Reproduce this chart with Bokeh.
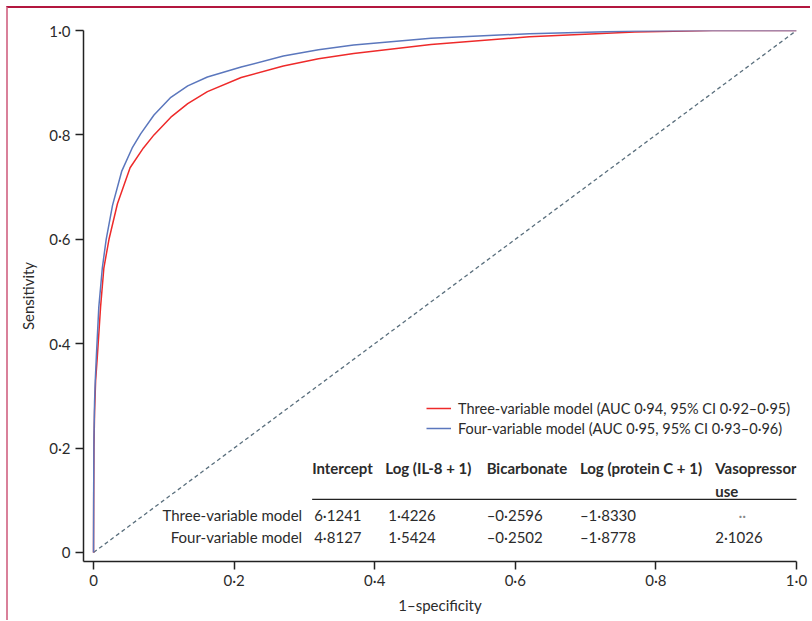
from bokeh.plotting import figure
from bokeh.models import Range1d, Legend, LegendItem, Label, FixedTicker
from bokeh.embed import file_html
from bokeh.resources import INLINE

# ---- data ----
three_fpr = [0, 0.0002, 0.0006, 0.0015, 0.003, 0.0052, 0.010, 0.0147, 0.022, 0.034,
             0.052, 0.071, 0.086, 0.110, 0.134, 0.162, 0.210, 0.27, 0.32, 0.37,
             0.48, 0.62, 0.77, 0.88, 1.0]
three_tpr = [0, 0.10, 0.20, 0.27, 0.33, 0.371, 0.47, 0.545, 0.600, 0.668,
             0.737, 0.775, 0.800, 0.834, 0.860, 0.883, 0.910, 0.932, 0.946, 0.956,
             0.973, 0.988, 0.997, 1.0, 1.0]
four_fpr = [0, 0.0002, 0.0006, 0.0015, 0.0025, 0.004, 0.0075, 0.0125, 0.018, 0.027,
            0.040, 0.055, 0.067, 0.086, 0.110, 0.134, 0.162, 0.210, 0.27, 0.32,
            0.37, 0.48, 0.62, 0.77, 0.88, 1.0]
four_tpr = [0, 0.12, 0.22, 0.29, 0.33, 0.375, 0.47, 0.545, 0.600, 0.665,
            0.730, 0.775, 0.802, 0.838, 0.872, 0.894, 0.911, 0.930, 0.951, 0.963,
            0.972, 0.985, 0.994, 0.999, 1.0, 1.0]
ref_x = [0, 1]
ref_y = [0, 1]

legend_labels = ["Three-variable model (AUC 0·94, 95% CI 0·92–0·95)",
                 "Four-variable model (AUC 0·95, 95% CI 0·93–0·96)"]

table_headers = ["Intercept", "Log (IL-8 + 1)", "Bicarbonate", "Log (protein C + 1)", "Vasopressor"]
table_rows = ["Three-variable model", "Four-variable model"]
intercept = ["6·1241", "4·8127"]
log_il8 = ["1·4226", "1·5424"]
bicarbonate = ["–0·2596", "–0·2502"]
log_protein_c = ["–1·8330", "–1·8778"]
vasopressor = ["··", "2·1026"]

ticks = [0, 0.2, 0.4, 0.6, 0.8, 1.0]
tick_labels = ["0", "0·2", "0·4", "0·6", "0·8", "1·0"]

FONT = "Lato"
FS = "15px"
TXT = "#2b2b2b"

p = figure(width=804, height=614, output_backend="svg", toolbar_location=None,
           x_range=Range1d(-0.01427, 1.0), y_range=Range1d(-0.0173, 1.0),
           min_border_left=75, min_border_right=16, min_border_top=22, min_border_bottom=61)
p.outline_line_color = None
p.xgrid.visible = False
p.ygrid.visible = False
p.styles = {"border-top": "2px solid #b3163f", "border-left": "2px solid #d9809a",
            "box-sizing": "border-box", "margin-left": "6px", "margin-top": "6px"}

for ax in (p.xaxis[0], p.yaxis[0]):
    ax.ticker = FixedTicker(ticks=ticks)
    ax.major_label_overrides = {t: l for t, l in zip(ticks, tick_labels)}
    ax.minor_tick_line_color = None
    ax.major_tick_in = 0
    ax.major_tick_out = 8
    ax.axis_line_color = "#222222"
    ax.axis_line_width = 1.5
    ax.major_tick_line_color = "#222222"
    ax.major_tick_line_width = 1.5
    ax.major_label_text_font = FONT
    ax.major_label_text_font_size = FS
    ax.major_label_text_color = TXT
    ax.axis_label_text_font = FONT
    ax.axis_label_text_font_size = FS
    ax.axis_label_text_font_style = "normal"
    ax.axis_label_text_color = TXT

p.xaxis.major_label_standoff = 1
p.yaxis.major_label_standoff = 5
p.xaxis.axis_label = "1–specificity"
p.yaxis.axis_label = "Sensitivity"
p.xaxis.axis_label_standoff = 4
p.yaxis.axis_label_standoff = 9

p.line(ref_x, ref_y, line_color="#5a6f7d", line_dash="4 3", line_width=1.3)
r3 = p.line(three_fpr, three_tpr, line_color="#ee2a2a", line_width=1.5)
r4 = p.line(four_fpr, four_tpr, line_color="#5b77bd", line_width=1.5)

legend = Legend(items=[LegendItem(label=legend_labels[0], renderers=[r3]),
                       LegendItem(label=legend_labels[1], renderers=[r4])],
                location=(343, 123), border_line_color=None, background_fill_alpha=0,
                padding=0, margin=0, spacing=0, glyph_width=25, glyph_height=20,
                label_height=20, label_standoff=7, label_text_font=FONT,
                label_text_font_size="14.5px", label_text_color=TXT)
p.add_layout(legend, "center")

# table layout (pixel -> data helpers)
def xd(px):
    return (px - 93) / 701.0

def yd(py):
    return (551 - py) / 521.0

head_x = [311, 384, 485, 578, 713]
for h, hx in zip(table_headers, head_x):
    p.add_layout(Label(x=xd(hx), y=yd(467), text=h, text_font=FONT, text_font_size=FS,
                       text_font_style="bold", text_color=TXT, text_baseline="middle",
                       text_align="left"))
p.add_layout(Label(x=xd(713), y=yd(490), text="use", text_font=FONT, text_font_size=FS,
                   text_font_style="bold", text_color=TXT, text_baseline="middle",
                   text_align="left"))
p.segment(x0=[xd(311)], y0=[yd(498)], x1=[xd(800)], y1=[yd(498)],
          line_color="#222222", line_width=1.3)

row_y = [514, 536]
cols = [intercept, log_il8, bicarbonate, log_protein_c, vasopressor]
col_x = [313, 387, 485, 578, 713]
for i, (name, ry) in enumerate(zip(table_rows, row_y)):
    p.add_layout(Label(x=xd(301), y=yd(ry), text=name, text_font=FONT, text_font_size=FS,
                       text_color=TXT, text_baseline="middle", text_align="right"))
    for col, cx in zip(cols, col_x):
        val = col[i]
        if val == "··":
            p.add_layout(Label(x=xd(740), y=yd(ry), text=val, text_font=FONT,
                               text_font_size=FS, text_color="#888888",
                               text_baseline="middle", text_align="center"))
        else:
            p.add_layout(Label(x=xd(cx), y=yd(ry), text=val, text_font=FONT,
                               text_font_size=FS, text_color=TXT,
                               text_baseline="middle", text_align="left"))

open("out.html", "w").write(file_html(p, INLINE))
